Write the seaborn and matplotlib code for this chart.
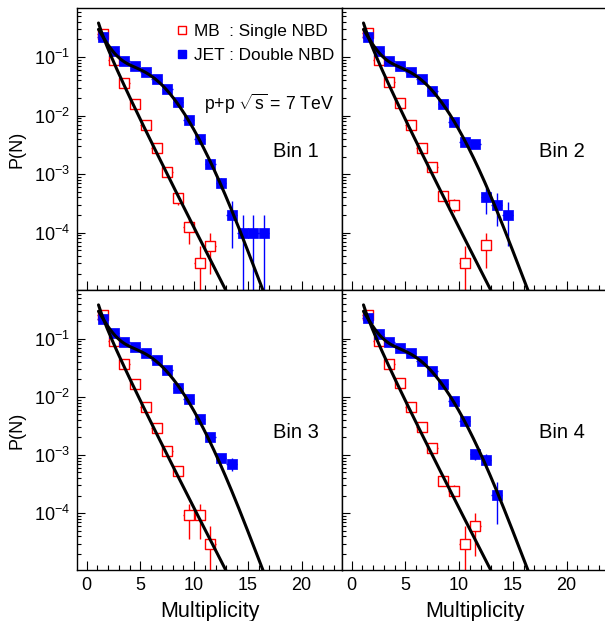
import math
import numpy as np
import matplotlib
matplotlib.use("Agg")
import matplotlib.pyplot as plt
from matplotlib.ticker import MultipleLocator, LogLocator
from matplotlib.lines import Line2D
import seaborn as sns

# ---- data ----
bins = ["Bin 1", "Bin 2", "Bin 3", "Bin 4"]

mb_x = [
    [1.5, 2.5, 3.5, 4.5, 5.5, 6.5, 7.5, 8.5, 9.5, 10.5, 11.5],
    [1.5, 2.5, 3.5, 4.5, 5.5, 6.5, 7.5, 8.5, 9.5, 10.5, 12.5],
    [1.5, 2.5, 3.5, 4.5, 5.5, 6.5, 7.5, 8.5, 9.5, 10.5, 11.5],
    [1.5, 2.5, 3.5, 4.5, 5.5, 6.5, 7.5, 8.5, 9.5, 10.5, 11.5],
]
mb_y = [
    [0.25, 0.089, 0.036, 0.016, 0.0069, 0.0028, 0.0011, 0.00039, 0.000123, 3.0e-5, 6.0e-5],
    [0.26, 0.089, 0.037, 0.0165, 0.0070, 0.0028, 0.00133, 0.00043, 0.00030, 3.0e-5, 6.2e-5],
    [0.26, 0.090, 0.037, 0.0167, 0.0066, 0.0029, 0.00118, 0.00052, 9.1e-5, 9.1e-5, 3.0e-5],
    [0.253, 0.090, 0.037, 0.017, 0.0068, 0.0030, 0.00133, 0.00036, 0.00024, 3.0e-5, 6.0e-5],
]
mb_err = [
    [0.005, 0.002, 0.001, 0.0005, 0.0003, 0.0002, 0.0001, 9e-5, 6e-5, 2.9e-5, 4e-5],
    [0.005, 0.002, 0.001, 0.0005, 0.0003, 0.0002, 0.0001, 6e-5, 7e-5, 2.9e-5, 3.7e-5],
    [0.005, 0.002, 0.001, 0.0005, 0.0003, 0.0002, 0.0001, 7e-5, 5.5e-5, 5.5e-5, 2.9e-5],
    [0.005, 0.002, 0.001, 0.0005, 0.0003, 0.0002, 0.0001, 6e-5, 6e-5, 2.9e-5, 4.2e-5],
]

jet_x = [
    [1.5, 2.5, 3.5, 4.5, 5.5, 6.5, 7.5, 8.5, 9.5, 10.5, 11.5, 12.5, 13.5, 14.5, 15.5, 16.5],
    [1.5, 2.5, 3.5, 4.5, 5.5, 6.5, 7.5, 8.5, 9.5, 10.5, 11.5, 12.5, 13.5, 14.5],
    [1.5, 2.5, 3.5, 4.5, 5.5, 6.5, 7.5, 8.5, 9.5, 10.5, 11.5, 12.5, 13.5],
    [1.5, 2.5, 3.5, 4.5, 5.5, 6.5, 7.5, 8.5, 9.5, 10.5, 11.5, 12.5, 13.5],
]
jet_y = [
    [0.22, 0.125, 0.086, 0.070, 0.055, 0.043, 0.028, 0.017, 0.0085, 0.0040, 0.0015, 0.00070,
     0.00020, 1.0e-4, 1.0e-4, 1.0e-4],
    [0.22, 0.127, 0.086, 0.070, 0.056, 0.043, 0.026, 0.0156, 0.0079, 0.0036, 0.0033, 0.0004,
     0.0003, 0.0002],
    [0.222, 0.125, 0.0875, 0.0718, 0.0565, 0.0435, 0.0288, 0.014, 0.0091, 0.0042, 0.00205,
     0.00089, 0.00071],
    [0.229, 0.122, 0.0875, 0.069, 0.0565, 0.042, 0.0275, 0.0166, 0.0086, 0.0039, 0.00103,
     0.00083, 0.000204],
]
jet_err = [
    [0.004, 0.003, 0.002, 0.002, 0.0015, 0.0012, 0.001, 0.0006, 0.0004, 0.0002, 0.00025,
     0.00015, 0.000145, 0.99e-4, 0.99e-4, 0.99e-4],
    [0.004, 0.003, 0.002, 0.002, 0.0015, 0.0012, 0.001, 0.0006, 0.0004, 0.0003, 0.0003,
     0.00019, 0.00017, 0.00014],
    [0.004, 0.003, 0.002, 0.002, 0.0015, 0.0012, 0.001, 0.0006, 0.0004, 0.0003, 0.0002,
     0.00013, 0.00017],
    [0.004, 0.003, 0.002, 0.002, 0.0015, 0.0012, 0.001, 0.0006, 0.0004, 0.0003, 0.0002,
     0.00023, 0.00014],
]
bin_halfwidth = 0.5

# NBD fit parameters (amplitude, weight, <n>, k)
mb_fit = [0.6642, 0.561, 0.6943]
jet_fit = [0.8363, 0.7181, 0.8972, 0.9816, 4.4615, 1.0e4]
fit_start = 1.1

lg = np.vectorize(math.lgamma)


def nbd(n, nbar, k):
    return np.exp(lg(n + k) - lg(n + 1) - lg(k)
                  + n * np.log(nbar / (nbar + k)) + k * np.log(k / (nbar + k)))


def single_nbd(x, A, nbar, k):
    return A * nbd(x - 1.0, nbar, k)


def double_nbd(x, A, a, n1, k1, n2, k2):
    n = x - 1.0
    return A * (a * nbd(n, n1, k1) + (1 - a) * nbd(n, n2, k2))


sns.set_style("ticks", {"xtick.direction": "in", "ytick.direction": "in"})
plt.rcParams["font.family"] = ["Liberation Sans", "DejaVu Sans"]
plt.rcParams["mathtext.fontset"] = "custom"
plt.rcParams["mathtext.rm"] = "Liberation Sans"
plt.rcParams["mathtext.it"] = "Liberation Sans:italic"
plt.rcParams["axes.linewidth"] = 1.0
for key in ["text.color", "axes.labelcolor", "xtick.color", "ytick.color",
            "axes.edgecolor"]:
    plt.rcParams[key] = "black"

fig = plt.figure(figsize=(6.05, 6.21), dpi=100)
W, H = 605.0, 621.0
boxes = [(77, 8, 290), (342, 8, 290), (77, 290, 570), (342, 290, 570)]

xx = np.linspace(fit_start, 19, 400)
mb_curve = single_nbd(xx, *mb_fit)
jet_curve = double_nbd(xx, *jet_fit)

axes = []
for i, (x0, ytop, ybot) in enumerate(boxes):
    ax = fig.add_axes([x0 / W, 1 - ybot / H, 265 / W, (ybot - ytop) / H])
    axes.append(ax)

    ax.errorbar(mb_x[i], mb_y[i], yerr=mb_err[i], xerr=bin_halfwidth, fmt="none",
                ecolor="red", elinewidth=1.0, capsize=0, zorder=2)
    ax.errorbar(jet_x[i], jet_y[i], yerr=jet_err[i], xerr=bin_halfwidth, fmt="none",
                ecolor="blue", elinewidth=1.0, capsize=0, zorder=2)
    sns.scatterplot(x=mb_x[i], y=mb_y[i], ax=ax, marker="s", s=50, color="white",
                    edgecolor="red", linewidth=1.0, zorder=3)
    sns.scatterplot(x=jet_x[i], y=jet_y[i], ax=ax, marker="s", s=50, color="blue",
                    edgecolor="blue", linewidth=0.5, zorder=3)
    sns.lineplot(x=xx, y=mb_curve, ax=ax, color="black", lw=2.2, sort=False,
                 estimator=None, zorder=4)
    sns.lineplot(x=xx, y=jet_curve, ax=ax, color="black", lw=2.2, sort=False,
                 estimator=None, zorder=4)

    ax.set_yscale("log")
    ax.set_ylim(1.05e-5, 0.69)
    ax.set_xlim(-0.9, 23.75)
    ax.xaxis.set_major_locator(MultipleLocator(5))
    ax.xaxis.set_minor_locator(MultipleLocator(1))
    ax.yaxis.set_major_locator(LogLocator(base=10))
    ax.yaxis.set_minor_locator(LogLocator(base=10, subs=np.arange(2, 10)))
    ax.tick_params(which="both", direction="in", top=False, right=False, width=0.8,
                   color="black", labelcolor="black", labelsize=13)
    ax.tick_params(axis="x", which="major", length=6.5, pad=5)
    ax.tick_params(axis="x", which="minor", length=3.6)
    ax.tick_params(axis="y", which="major", length=5.8, pad=5)
    ax.tick_params(axis="y", which="minor", length=3.0)
    for s in ax.spines.values():
        s.set_color("black")
    ax.set_xlabel("")
    ax.set_ylabel("")
    if i < 2:
        ax.tick_params(axis="x", labelbottom=False)
    else:
        ax.set_xlabel("Multiplicity", fontsize=15.5, labelpad=5, color="black")
    if i % 2 == 1:
        ax.tick_params(axis="y", labelleft=False)
    else:
        ax.set_ylabel("P(N)", fontsize=13, labelpad=6, color="black")

    bx = 0.74 if i % 2 == 0 else 0.743
    ax.text(bx, 0.49, bins[i], transform=ax.transAxes, fontsize=14.5,
            ha="left", va="center", color="black")

ax = axes[0]
ax.text(0.479, 0.66, r"p+p $\sqrt{\mathrm{s}}$ = 7 TeV", transform=ax.transAxes,
        fontsize=12.7, ha="left", va="center", color="black")
handles = [
    Line2D([], [], ls="none", marker="s", ms=5.5, mfc="white", mec="red", mew=1.0),
    Line2D([], [], ls="none", marker="s", ms=5.5, mfc="blue", mec="blue"),
]
leg = ax.legend(handles, ["MB  : Single NBD", "JET : Double NBD"], loc="upper left",
                bbox_to_anchor=(0.323, 0.985), frameon=False, fontsize=12.4,
                handlelength=0.8, handletextpad=0.3, labelspacing=0.5, borderpad=0.2)
for t in leg.get_texts():
    t.set_color("black")

fig.savefig("out.png", dpi=100)
